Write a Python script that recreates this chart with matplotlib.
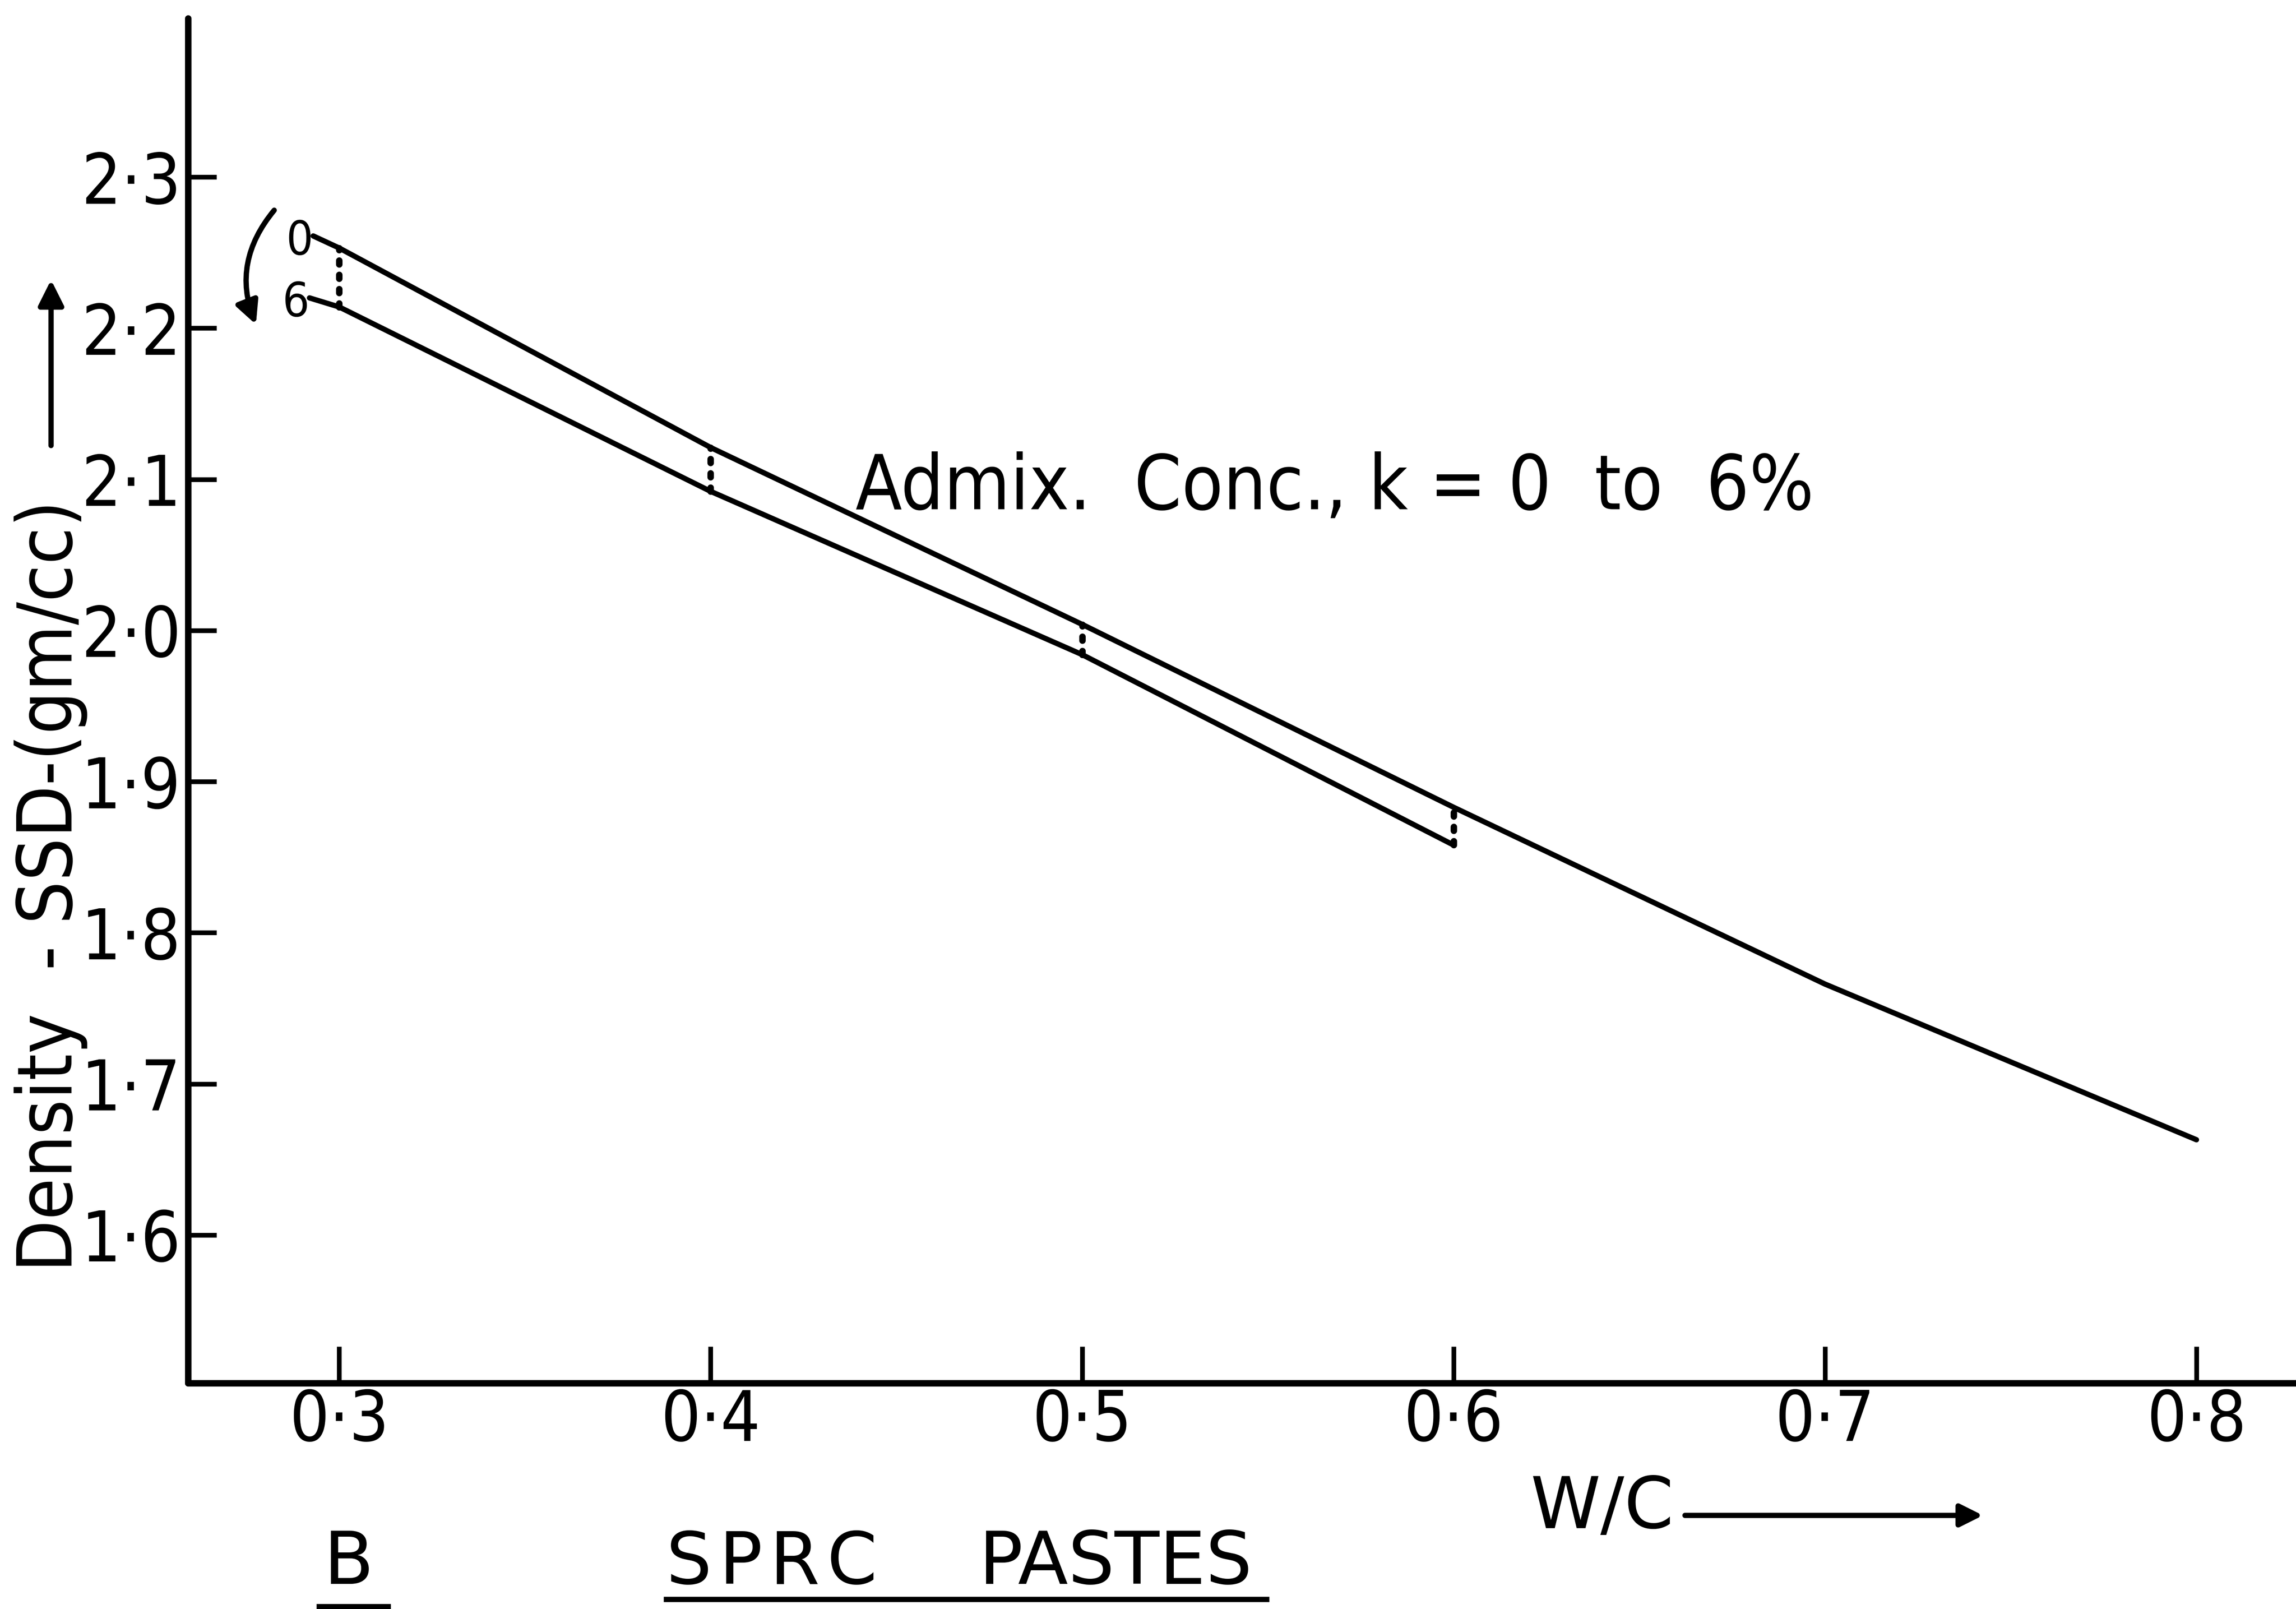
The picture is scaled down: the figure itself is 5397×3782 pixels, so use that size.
import matplotlib
matplotlib.use("Agg")
import matplotlib.pyplot as plt
from matplotlib.patches import FancyArrowPatch
from matplotlib.ticker import FuncFormatter
from matplotlib.lines import Line2D
import numpy as np

# ---- data ----
wc_k0 = [0.293, 0.3, 0.4, 0.5, 0.6, 0.7, 0.8]
density_k0 = [2.261, 2.253, 2.121, 2.004, 1.883, 1.766, 1.663]
wc_k6 = [0.292, 0.3, 0.4, 0.5, 0.6]
density_k6 = [2.220, 2.214, 2.092, 1.984, 1.858]
connector_wc = [0.3, 0.4, 0.5, 0.6]
x_ticks = [0.3, 0.4, 0.5, 0.6, 0.7, 0.8]
y_ticks = [1.6, 1.7, 1.8, 1.9, 2.0, 2.1, 2.2, 2.3]

plt.rcParams["font.family"] = ["DejaVu Sans"]
FONT = dict(family="DejaVu Sans", stretch="condensed")

W, H = 5397, 3782
fig = plt.figure(figsize=(W / 100, H / 100), dpi=100)
ax = fig.add_axes([442 / W, 1 - 3251 / H, 1 - 442 / W, (3251 - 43) / H])
ax.set_xlim(0.2593, 0.8268)
ax.set_ylim(1.502, 2.405)

for s in ("top", "right"):
    ax.spines[s].set_visible(False)
for s in ("left", "bottom"):
    ax.spines[s].set_linewidth(11)
    ax.spines[s].set_capstyle("round")

ax.set_xticks(x_ticks)
ax.set_yticks(y_ticks)
fmt = FuncFormatter(lambda v, p: f"{v:.1f}".replace(".", "\u00b7"))
ax.xaxis.set_major_formatter(fmt)
ax.yaxis.set_major_formatter(fmt)
ax.tick_params(axis="y", direction="in", length=48, width=8, pad=12, labelsize=118)
ax.tick_params(axis="x", direction="in", length=62, width=8, pad=8, labelsize=118)
for lab in ax.get_xticklabels() + ax.get_yticklabels():
    lab.set_fontstretch("condensed")

# curves
ax.plot(wc_k0, density_k0, color="black", lw=9, solid_capstyle="round")
ax.plot(wc_k6, density_k6, color="black", lw=9, solid_capstyle="round")
up = np.interp(connector_wc, wc_k0, density_k0)
lo = np.interp(connector_wc, wc_k6, density_k6)
ax.vlines(connector_wc, lo, up, colors="black", linestyles=(0, (0.6, 1.6)),
          lw=11, capstyle="round")

# small labels 0 / 6 and curved arrow
ax.text(0.2893, 2.2575, "0", fontsize=80, ha="center", va="center", **FONT)
ax.text(0.2884, 2.2165, "6", fontsize=80, ha="center", va="center", **FONT)
arr = FancyArrowPatch((0.2827, 2.2786), (0.2777, 2.2017),
                      connectionstyle="arc3,rad=0.3", arrowstyle="-|>",
                      mutation_scale=80, lw=9, color="black")
ax.add_patch(arr)

# annotation
ax.text(0.439, 2.094, "Admix.  Conc., k = 0  to  6%", fontsize=128,
        ha="left", va="center", **FONT)

# y label with arrow
fig.text(120 / W, 1 - 2083 / H, "Density  - SSD-(gm/cc)", rotation=90,
         fontsize=128, ha="center", va="center", **FONT)
fig.add_artist(FancyArrowPatch((120 / W, 1 - 1050 / H), (120 / W, 1 - 655 / H),
                               transform=fig.transFigure, arrowstyle="-|>",
                               mutation_scale=90, lw=9, color="black"))

# x label with arrow
fig.text(3597 / W, 1 - 3545 / H, "W/C", fontsize=120, ha="left", va="center")
fig.add_artist(FancyArrowPatch((3958 / W, 1 - 3562 / H), (4664 / W, 1 - 3562 / H),
                               transform=fig.transFigure, arrowstyle="-|>",
                               mutation_scale=80, lw=9, color="black"))

# bottom captions
fig.text(819 / W, 1 - 3676 / H, "B", fontsize=124, ha="center", va="center")
fig.add_artist(Line2D([750 / W, 912 / W], [1 - 3776 / H, 1 - 3776 / H],
                      transform=fig.transFigure, color="black", lw=9))
hs = "\u200a"
fig.text(1566 / W, 1 - 3676 / H, hs.join("SPRC"), fontsize=122, ha="left", va="center")
fig.text(2300 / W, 1 - 3676 / H, "PASTES", fontsize=124, ha="left", va="center")
fig.add_artist(Line2D([1566 / W, 2977 / W], [1 - 3759 / H, 1 - 3759 / H],
                      transform=fig.transFigure, color="black", lw=9))

fig.savefig("out.png", dpi=100, facecolor="white")
